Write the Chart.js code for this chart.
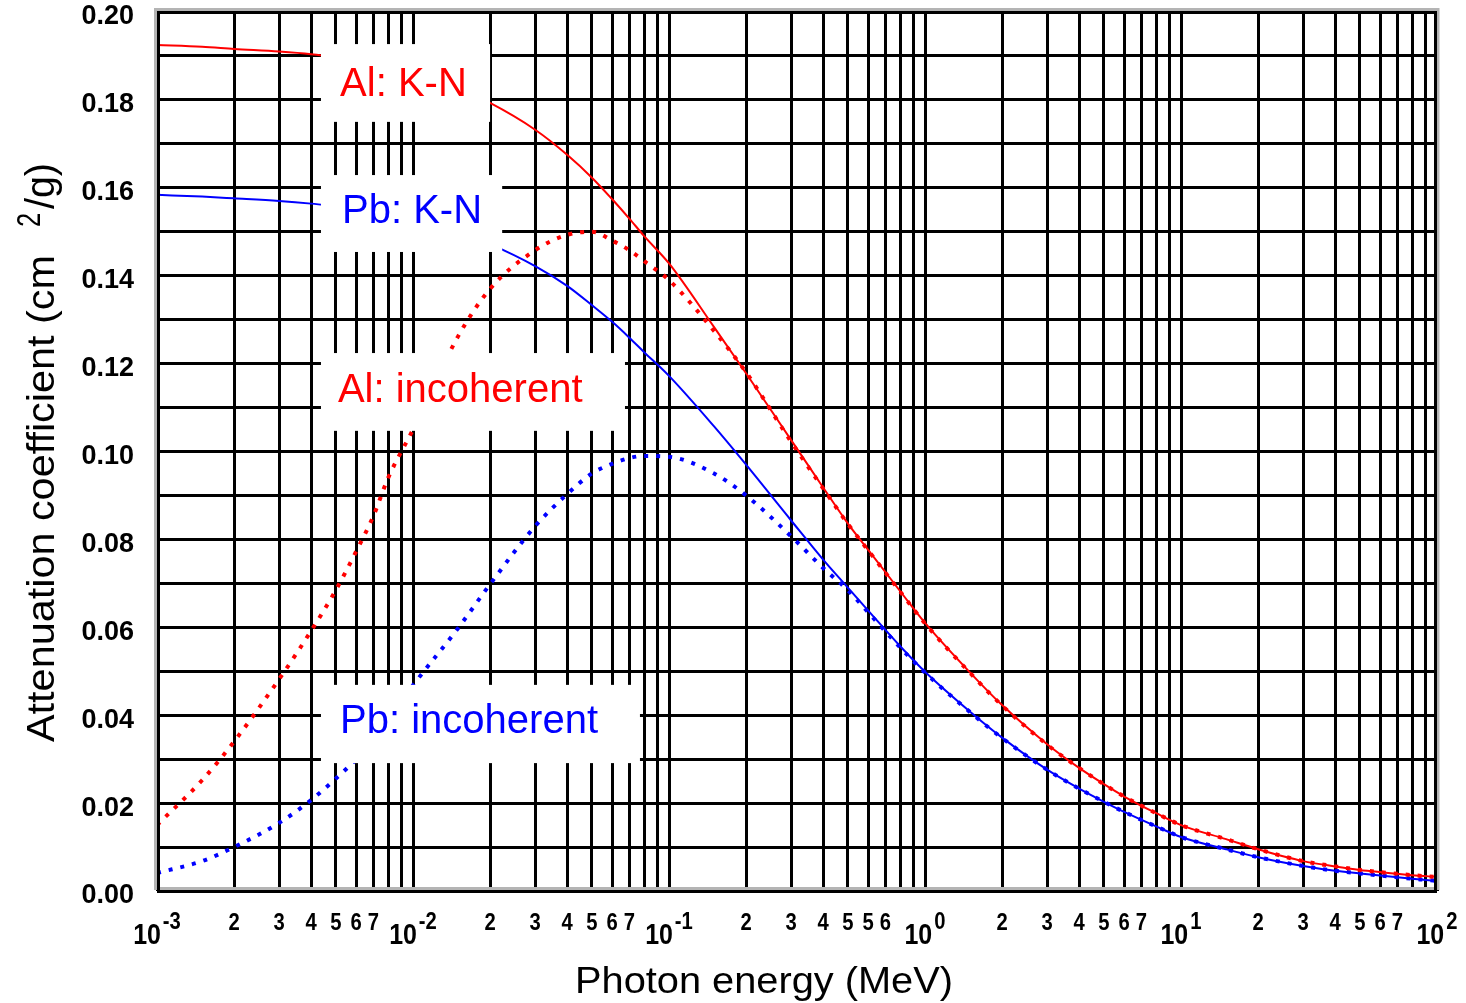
<!DOCTYPE html>
<html>
<head>
<meta charset="utf-8">
<script src="https://cdn.jsdelivr.net/npm/chart.js@4.4.1/dist/chart.umd.min.js"></script>
<style>
  html, body { margin:0; padding:0; background:#fff; }
  #wrap { width:1466px; height:1003px; position:relative; }
</style>
</head>
<body>
<div id="wrap"><canvas id="chart"></canvas></div>
<script>
const energyMeV = [0.001, 0.0015, 0.002, 0.003, 0.004, 0.005, 0.006, 0.007, 0.008, 0.01,
  0.015, 0.02, 0.03, 0.04, 0.05, 0.06, 0.07, 0.08, 0.1, 0.15, 0.2, 0.3, 0.4, 0.5, 0.6, 0.8,
  1, 1.5, 2, 3, 4, 5, 6, 8, 10, 15, 20, 30, 40, 50, 60, 80, 100];

// attenuation coefficient, cm2/g
const alKleinNishina = [0.1925, 0.1921, 0.1916, 0.1910, 0.1904, 0.1897, 0.1890, 0.1883, 0.1876, 0.1860,
  0.1826, 0.1793, 0.1732, 0.1675, 0.1623, 0.1574, 0.1530, 0.1490, 0.1428, 0.1283, 0.1178, 0.1026, 0.0918, 0.0836, 0.0776, 0.0682,
  0.0610, 0.0497, 0.0423, 0.0334, 0.0280, 0.0243, 0.0215, 0.0177, 0.0150, 0.0118, 0.0095, 0.0068, 0.0056, 0.0048, 0.0043, 0.0036, 0.0032];
const pbKleinNishina = [0.1584, 0.1580, 0.1576, 0.1570, 0.1564, 0.1558, 0.1553, 0.1547, 0.1541, 0.1528,
  0.1500, 0.1472, 0.1422, 0.1377, 0.1333, 0.1295, 0.1259, 0.1226, 0.1172, 0.1057, 0.0970, 0.0843, 0.0754, 0.0690, 0.0638, 0.0557,
  0.0499, 0.0408, 0.0349, 0.0276, 0.0233, 0.0203, 0.0180, 0.0147, 0.0123, 0.0095, 0.0077, 0.0057, 0.0046, 0.0040, 0.0035, 0.0028, 0.0023];
const alIncoherent = [0.0150, 0.0252, 0.0340, 0.0482, 0.0592, 0.0685, 0.0773, 0.0853, 0.0940, 0.1050,
  0.1262, 0.1370, 0.1458, 0.1493, 0.1500, 0.1480, 0.1458, 0.1433, 0.1390, 0.1274, 0.1180, 0.1022, 0.0916, 0.0835, 0.0775, 0.0681,
  0.0609, 0.0496, 0.0422, 0.0333, 0.0280, 0.0243, 0.0215, 0.0177, 0.0150, 0.0118, 0.0095, 0.0068, 0.0056, 0.0048, 0.0043, 0.0036, 0.0032];
const pbIncoherent = [0.0041, 0.0068, 0.0100, 0.0155, 0.0207, 0.0256, 0.0300, 0.0345, 0.0390, 0.0468,
  0.0598, 0.0698, 0.0830, 0.0903, 0.0950, 0.0972, 0.0985, 0.0990, 0.0988, 0.0950, 0.0900, 0.0807, 0.0735, 0.0684, 0.0634, 0.0554,
  0.0497, 0.0407, 0.0348, 0.0276, 0.0233, 0.0203, 0.0180, 0.0147, 0.0123, 0.0095, 0.0077, 0.0057, 0.0046, 0.0040, 0.0035, 0.0028, 0.0023];

// axis labels
const decadeValues = [0.001, 0.01, 0.1, 1, 10, 100];
const decadeExponents = ['-3', '-2', '-1', '0', '1', '2'];
const minorMultipliers = [2, 3, 4, 5, 6, 7];
const minorTickText = [
  ['2', '3', '4', '5', '6', '7'],
  ['2', '3', '4', '5', '6', '7'],
  ['2', '3', '4', '5', '5', '6'],   // as printed in the original
  ['2', '3', '4', '5', '6', '7'],
  ['2', '3', '4', '5', '6', '7']
];
const xTitle = 'Photon energy (MeV)';
const yTitleMain = 'Attenuation coefficient (cm';
const yTitleSup = '2';
const yTitleTail = '/g)';

const seriesLabels = ['Al: K-N', 'Pb: K-N', 'Al: incoherent', 'Pb: incoherent'];

// white label boxes, in data coords: [xFrom, xTo, yTop, yBottom], text anchor [x, y]
const labelLayout = [
  { box: [0.00437, 0.0200, 0.1927, 0.1750], at: [0.00519, 0.1809], color: '#ff0000' },
  { box: [0.00437, 0.0223, 0.1629, 0.1454], at: [0.00528, 0.1520], color: '#0000ff' },
  { box: [0.00437, 0.0673, 0.1224, 0.1047], at: [0.00509, 0.1113], color: '#ff0000' },
  { box: [0.00437, 0.0770, 0.0469, 0.0291], at: [0.00519, 0.0360], color: '#0000ff' }
];

const FONT = "'Liberation Sans', Arial, Helvetica, sans-serif";

function pts(values){ return energyMeV.map((e, i) => ({ x: e, y: values[i] })); }

function txt(ctx, s, x, y, font, sx, align){
  ctx.save();
  ctx.translate(x, y);
  ctx.scale(sx, 1);
  ctx.font = font;
  ctx.textAlign = align || 'left';
  ctx.textBaseline = 'alphabetic';
  ctx.fillText(s, 0, 0);
  ctx.restore();
}

const deco = {
  id: 'deco',
  beforeDraw(chart){
    const ctx = chart.ctx;
    ctx.save();
    ctx.fillStyle = '#fff';
    ctx.fillRect(0, 0, chart.width, chart.height);
    ctx.restore();
  },
  afterDatasetsDraw(chart){
    const { ctx, chartArea: a } = chart;
    const xs = chart.scales.x, ys = chart.scales.y;
    ctx.save();
    // frame: grey shadow + black border
    ctx.lineWidth = 3;
    ctx.strokeStyle = '#b4b4b4';
    ctx.strokeRect(a.left - 1.5, a.top - 2.5, a.right - a.left + 2.5, a.bottom - a.top);
    ctx.strokeStyle = '#000';
    ctx.strokeRect(a.left + 1.5, a.top + 0.5, a.right - a.left - 3, a.bottom - a.top);
    // labels on white boxes
    labelLayout.forEach((l, i) => {
      const x0 = xs.getPixelForValue(l.box[0]), x1 = xs.getPixelForValue(l.box[1]);
      const y0 = ys.getPixelForValue(l.box[2]), y1 = ys.getPixelForValue(l.box[3]);
      ctx.fillStyle = '#fff';
      ctx.fillRect(x0, y0, x1 - x0, y1 - y0);
      ctx.fillStyle = l.color;
      txt(ctx, seriesLabels[i], xs.getPixelForValue(l.at[0]), ys.getPixelForValue(l.at[1]), `40px ${FONT}`, 1);
    });
    ctx.restore();
  },
  afterDraw(chart){
    const ctx = chart.ctx;
    const xs = chart.scales.x;
    ctx.save();
    ctx.fillStyle = '#000';
    // x tick labels: 10^n with superscript, minor digits between
    decadeValues.forEach((d, i) => {
      const px = xs.getPixelForValue(d);
      ctx.font = `bold 29px ${FONT}`;
      const w10 = ctx.measureText('10').width * 0.86;
      ctx.font = `bold 23px ${FONT}`;
      const we = ctx.measureText(decadeExponents[i]).width * 0.88;
      const start = px - (w10 + we + 2) / 2;
      txt(ctx, '10', start, 944, `bold 29px ${FONT}`, 0.86);
      txt(ctx, decadeExponents[i], start + w10 + 2, 929, `bold 23px ${FONT}`, 0.88);
      if (i < minorTickText.length) {
        minorMultipliers.forEach((m, j) => {
          txt(ctx, minorTickText[i][j], xs.getPixelForValue(d * m), 930, `bold 23px ${FONT}`, 0.88, 'center');
        });
      }
    });
    // x title
    ctx.font = `37px ${FONT}`;
    const wx = ctx.measureText(xTitle).width;
    txt(ctx, xTitle, 575, 993, `37px ${FONT}`, 378 / wx);
    // y title, rotated
    ctx.translate(54, 742);
    ctx.rotate(-Math.PI / 2);
    ctx.font = `38px ${FONT}`;
    const wy = ctx.measureText(yTitleMain).width;
    txt(ctx, yTitleMain, 0, 0, `38px ${FONT}`, 487 / wy);
    txt(ctx, yTitleSup, 515, -14, `34px ${FONT}`, 0.75);
    ctx.font = `40px ${FONT}`;
    const wt = ctx.measureText(yTitleTail).width;
    txt(ctx, yTitleTail, 533, 0, `40px ${FONT}`, 46 / wt);
    ctx.restore();
  }
};

const solid = (label, values, color) => ({
  label, data: pts(values), borderColor: color, borderWidth: 2,
  pointRadius: 0, fill: false, cubicInterpolationMode: 'monotone'
});
const dotted = (label, values, color) => ({
  label, data: pts(values), borderColor: color, borderWidth: 4, borderDash: [4, 8],
  borderCapStyle: 'butt', pointRadius: 0, fill: false, cubicInterpolationMode: 'monotone'
});

new Chart(document.getElementById('chart'), {
  type: 'line',
  data: {
    datasets: [
      dotted('Al: incoherent', alIncoherent, '#ff0000'),
      dotted('Pb: incoherent', pbIncoherent, '#0000ff'),
      solid('Al: K-N', alKleinNishina, '#ff0000'),
      solid('Pb: K-N', pbKleinNishina, '#0000ff')
    ]
  },
  options: {
    responsive: true,
    maintainAspectRatio: false,
    animation: false,
    layout: { padding: { left: 0, top: 12, right: 29, bottom: 0 } },
    plugins: { legend: { display: false }, tooltip: { enabled: false } },
    scales: {
      x: {
        type: 'logarithmic', min: 0.001, max: 100,
        afterBuildTicks: (scale) => {
          const t = [];
          decadeValues.forEach(d => {
            for (let m = 1; m <= 9; m++) { const v = d * m; if (v <= 100.0001) t.push({ value: v }); }
          });
          scale.ticks = t;
        },
        afterFit: (scale) => { scale.height = 112; scale.paddingLeft = 0; scale.paddingRight = 0; },
        ticks: { display: false },
        grid: { color: '#000', lineWidth: 3, drawTicks: false },
        border: { display: false }
      },
      y: {
        min: 0, max: 0.2,
        afterFit: (scale) => { scale.width = 157; scale.paddingTop = 0; scale.paddingBottom = 0; },
        ticks: {
          stepSize: 0.01, autoSkip: false, padding: 23, labelOffset: 5, color: '#000',
          font: { family: FONT, size: 27, weight: 'bold', lineHeight: 0.8 },
          callback: (v) => (Math.round(v * 100) % 2 === 0 ? v.toFixed(2) : '')
        },
        grid: { color: '#000', lineWidth: 3, drawTicks: false },
        border: { display: false }
      }
    }
  },
  plugins: [deco]
});
</script>
</body>
</html>
